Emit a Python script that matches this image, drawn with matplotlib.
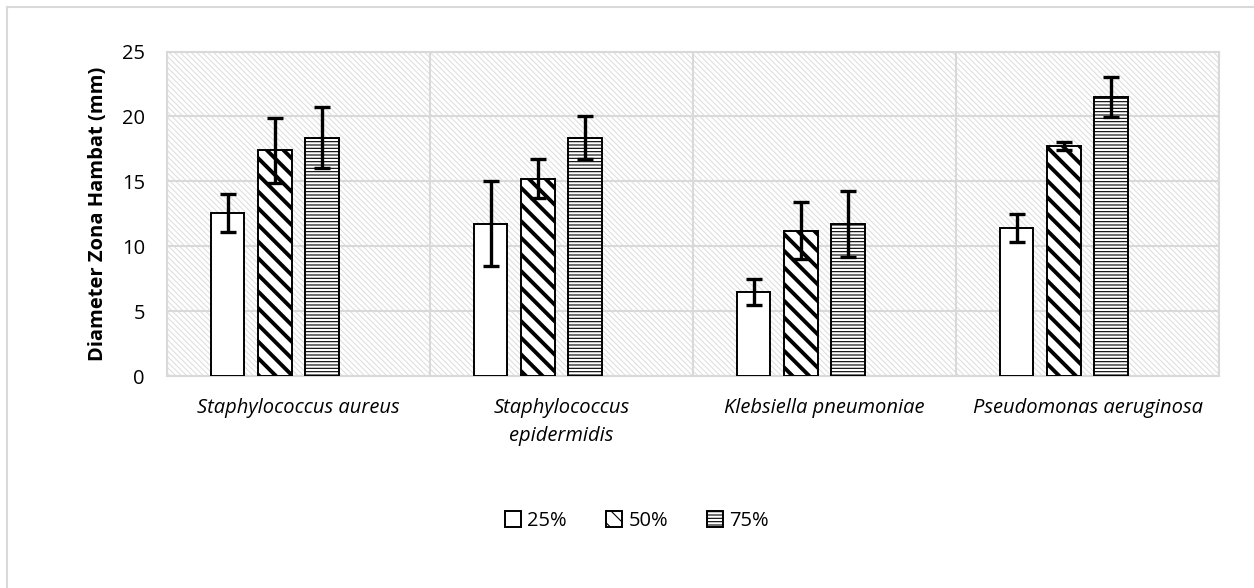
import numpy as np
import matplotlib
matplotlib.use("Agg")
import matplotlib.pyplot as plt
from matplotlib.patches import Rectangle
from matplotlib.lines import Line2D

plt.rcParams['font.family'] = ['Open Sans', 'DejaVu Sans']

# data
bacteria = ["Staphylococcus aureus", "Staphylococcus\nepidermidis",
            "Klebsiella pneumoniae", "Pseudomonas aeruginosa"]
series = ["25%", "50%", "75%"]
val_25 = [12.56, 11.74, 6.5, 11.4]
val_50 = [17.4, 15.2, 11.2, 17.7]
val_75 = [18.36, 18.36, 11.7, 21.5]
err_25 = [1.5, 3.25, 1.0, 1.05]
err_50 = [2.5, 1.5, 2.2, 0.3]
err_75 = [2.35, 1.65, 2.55, 1.55]

grid_c = "#d9d9d9"
fs = 14.5

fig = plt.figure(figsize=(12.54, 5.88), dpi=100)
ax = fig.add_axes([0.1332, 0.3605, 0.9721 - 0.1332, 0.9124 - 0.3605])

# outer chart border (top and left visible)
fig.add_artist(Line2D([7 / 1254, 1], [1 - 7 / 588, 1 - 7 / 588], color=grid_c, lw=1.5))
fig.add_artist(Line2D([7 / 1254, 7 / 1254], [0, 1 - 7 / 588], color=grid_c, lw=1.5))

# hatched plot-area background
bg = Rectangle((0, 0), 1, 1, transform=ax.transAxes, facecolor="white",
               edgecolor="#dedede", hatch='\\' * 6, lw=0, zorder=0)
if hasattr(bg, "set_hatch_linewidth"):
    bg.set_hatch_linewidth(0.75)
ax.add_patch(bg)

x = np.arange(len(bacteria))
offsets = [-0.27, -0.09, 0.09]
width = 0.127
vals = [val_25, val_50, val_75]
errs = [err_25, err_50, err_75]
hatches = ['', '\\\\', '-----']
hlw = [0.5, 2.8, 0.8]

handles = []
for i in range(3):
    plt.rcParams['hatch.linewidth'] = hlw[i]
    bars = ax.bar(x + offsets[i], vals[i], width, color="white", edgecolor="black",
                  linewidth=1.4, hatch=hatches[i], zorder=3, label=series[i])
    for b in bars:
        if hasattr(b, "set_hatch_linewidth"):
            b.set_hatch_linewidth(hlw[i])
    ax.errorbar(x + offsets[i], vals[i], yerr=errs[i], fmt='none', ecolor="black",
                elinewidth=2.4, capsize=6, capthick=2.4, zorder=4)
    handles.append(bars)

ax.set_xlim(-0.5, 3.5)
ax.set_ylim(0, 25)
ax.set_yticks(range(0, 26, 5))
ax.set_xticks(x)
ax.set_xticklabels(bacteria, fontstyle="italic", fontsize=fs, linespacing=1.55)
ax.set_xticks(np.arange(-0.5, 4, 1), minor=True)
ax.grid(axis="y", color=grid_c, lw=1.5, zorder=1)
ax.grid(axis="x", which="minor", color=grid_c, lw=1.5, zorder=1)
ax.tick_params(axis="x", which="both", length=0, pad=16)
ax.tick_params(axis="y", length=0, pad=16, labelsize=fs)
for s in ax.spines.values():
    s.set_color(grid_c)
    s.set_linewidth(1.5)

ax.set_ylabel("Diameter Zona Hambat (mm)", fontsize=fs, fontweight="bold", labelpad=10)

fig.legend(handles=handles, labels=series, loc="center", bbox_to_anchor=(637 / 1254, 1 - 521 / 588),
           ncol=3, frameon=False, fontsize=fs, handlelength=0.8, handleheight=0.8,
           handletextpad=0.3, columnspacing=1.95)

fig.savefig("out.png", dpi=100)
